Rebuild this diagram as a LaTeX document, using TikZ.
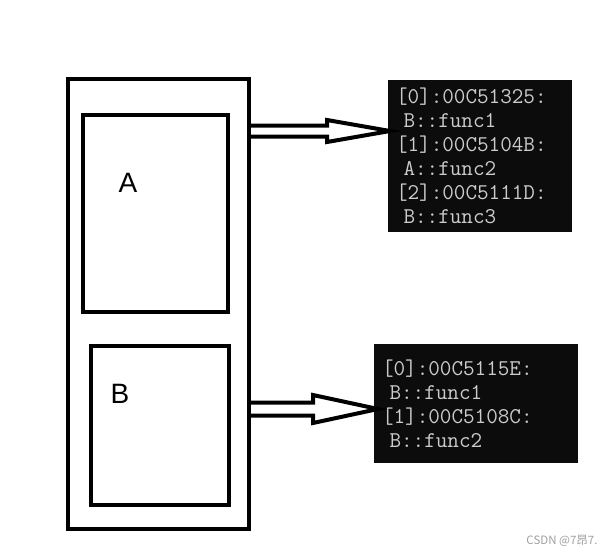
\documentclass[tikz,border=0pt]{standalone}
\usepackage{fontspec}
\newfontfamily\labelfont{Liberation Sans}
\newfontfamily\cjkfont{Noto Sans CJK SC}
\usetikzlibrary{calc, positioning}
\definecolor{consolebg}{HTML}{0C0C0C}
\definecolor{consoletext}{HTML}{CCCCCC}
\definecolor{markgray}{HTML}{A0A0A0}

\begin{document}
\begin{tikzpicture}[
    x=1pt, y=-1pt,
    box/.style={rectangle, draw, line width=4.5pt, outer sep=0pt, inner sep=0pt},
    vtable/.style={rectangle, fill=consolebg, text=consoletext, anchor=north west, outer sep=0pt, inner xsep=8pt, inner ysep=0pt, align=left, font=\fontsize{22.5}{24}\selectfont\ttfamily},
    partlabel/.style={font=\labelfont\fontsize{28}{28}\selectfont},
    hollow/.style={draw, line width=4pt}
]
\useasboundingbox (0,0) rectangle (613,558);

% object layout
\node[box, minimum width=181pt, minimum height=450pt] (obj) at (158.5,304) {};
\node[box, minimum width=145pt, minimum height=197pt] (partA) at (155.5,213.5) {};
\node[box, minimum width=138pt, minimum height=159pt] (partB) at (160,425.5) {};
\node[partlabel] (labelA) at (128,182.5) {A};
\node[partlabel] (labelB) at (120,394) {B};

% virtual tables
\node[vtable, text width=168pt, minimum height=152pt] (vtA) at (388,80) {
    {[0]}:00C51325:\\
    \ B::func1\\
    {[1]}:00C5104B:\\
    \ A::func2\\
    {[2]}:00C5111D:\\
    \ B::func3\\[-3pt]
};
\node[vtable, text width=188pt, minimum height=119pt] (vtB) at (374,344) {
    {[0]}:00C5115E:\\
    \ B::func1\\
    {[1]}:00C5108C:\\
    \ B::func2\\[-3pt]
};

% hollow arrows
\coordinate (tipA) at ($(vtA.north west)+(2,51)$);
\coordinate (tipB) at ($(vtB.north west)+(4,65)$);
\draw[hollow] ($(obj.east |- tipA)+(0,-5.5)$) -- ($(tipA)+(-63,-5.5)$) -- ($(tipA)+(-63,-11)$)
    -- (tipA) -- ($(tipA)+(-63,11)$) -- ($(tipA)+(-63,5.5)$) -- ($(obj.east |- tipA)+(0,5.5)$);
\draw[hollow] ($(obj.east |- tipB)+(0,-6.5)$) -- ($(tipB)+(-65,-6.5)$) -- ($(tipB)+(-65,-14)$)
    -- (tipB) -- ($(tipB)+(-65,14)$) -- ($(tipB)+(-65,6.5)$) -- ($(obj.east |- tipB)+(0,6.5)$);

% watermark
\node[font=\cjkfont\fontsize{11.5}{11.5}\selectfont, text=markgray] (mark) at (562,541) {CSDN @7昂7.};

\end{tikzpicture}
\end{document}
